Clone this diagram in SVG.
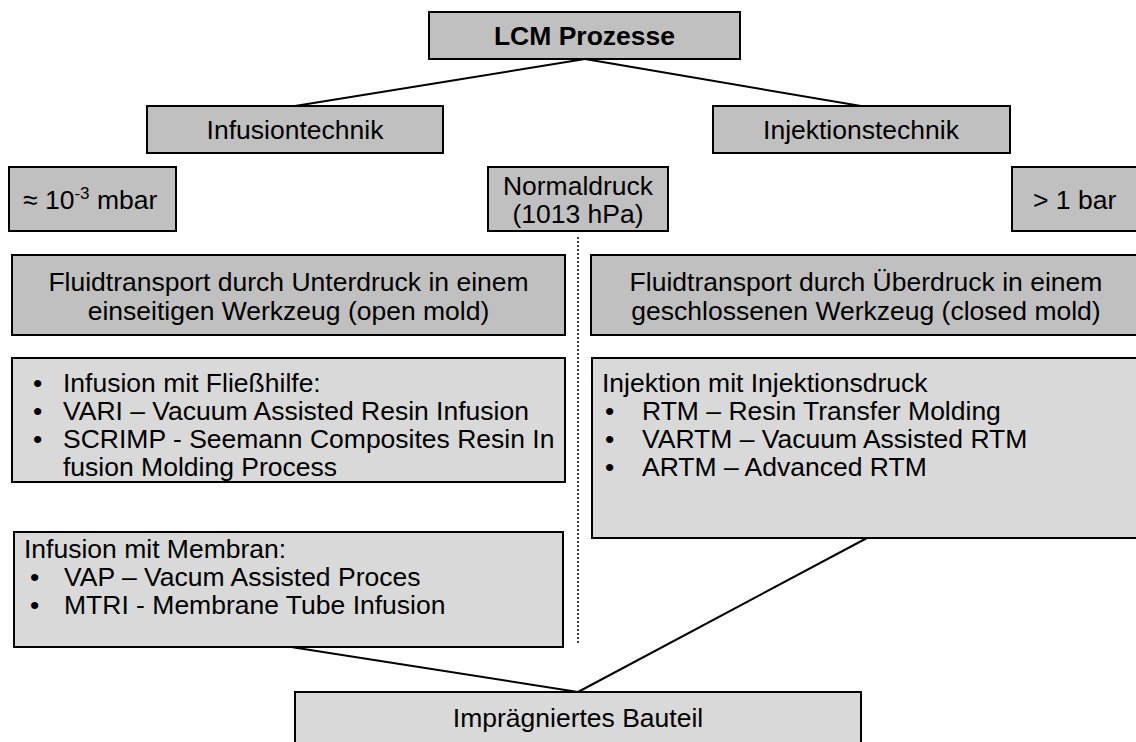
<svg xmlns="http://www.w3.org/2000/svg" width="1136" height="742" viewBox="0 0 1136 742">
<style>
  .dark { fill: #c0c0c0; stroke: #000; stroke-width: 2; }
  .light { fill: #d9d9d9; stroke: #000; stroke-width: 2; }
  text { font-family: "Liberation Sans", Arial, sans-serif; font-size: 26.5px; fill: #000; }
  .c { text-anchor: middle; }
  .b { font-weight: bold; }
  .conn { stroke: #000; stroke-width: 2; fill: none; }
  .dot { stroke: #000; stroke-width: 1.5; stroke-dasharray: 2 2; fill: none; }
</style>
<rect width="1136" height="742" fill="#fff"/>
<g id="connectors">
  <line class="conn" x1="585" y1="59" x2="295" y2="106"/>
  <line class="conn" x1="585" y1="59" x2="861" y2="106"/>
  <line class="conn" x1="291" y1="647" x2="578" y2="692"/>
  <line class="conn" x1="867" y1="538" x2="578" y2="692"/>
  <line class="dot" x1="578" y1="237" x2="578" y2="645"/>
</g>
<g id="lcm">
  <rect class="dark" x="429" y="12" width="311" height="47"/>
  <text class="c b" x="584.5" y="44.5">LCM Prozesse</text>
</g>
<g id="infusiontechnik">
  <rect class="dark" x="147" y="106" width="296" height="47"/>
  <text class="c" x="295" y="139">Infusiontechnik</text>
</g>
<g id="injektionstechnik">
  <rect class="dark" x="713" y="106" width="297" height="47"/>
  <text class="c" x="861" y="139">Injektionstechnik</text>
</g>
<g id="vakuum">
  <rect class="dark" x="9" y="167" width="167" height="64"/>
  <text x="23" y="208.5">≈ 10<tspan font-size="17" dy="-10">-3</tspan><tspan dy="10"> mbar</tspan></text>
</g>
<g id="normaldruck">
  <rect class="dark" x="488" y="167" width="180" height="64"/>
  <text class="c" x="578" y="194.5">Normaldruck</text>
  <text class="c" x="578" y="222.5">(1013 hPa)</text>
</g>
<g id="ueberdruck">
  <rect class="dark" x="1012" y="167" width="140" height="64"/>
  <text x="1033" y="208.5">&gt; 1 bar</text>
</g>
<g id="fluid-links">
  <rect class="dark" x="12" y="255" width="553" height="80"/>
  <text class="c" x="288.5" y="291">Fluidtransport durch Unterdruck in einem</text>
  <text class="c" x="288.5" y="320">einseitigen Werkzeug (open mold)</text>
</g>
<g id="fluid-rechts">
  <rect class="dark" x="591" y="255" width="560" height="80"/>
  <text class="c" x="866" y="291">Fluidtransport durch Überdruck in einem</text>
  <text class="c" x="866" y="320">geschlossenen Werkzeug (closed mold)</text>
</g>
<g id="liste-fliesshilfe">
  <rect class="light" x="12" y="358" width="553" height="124"/>
  <text x="33" y="392">•</text><text x="63" y="392">Infusion mit Fließhilfe:</text>
  <text x="33" y="420">•</text><text x="63" y="420">VARI – Vacuum Assisted Resin Infusion</text>
  <text x="33" y="448">•</text><text x="63" y="448">SCRIMP - Seemann Composites Resin In</text>
  <text x="63" y="476">fusion Molding Process</text>
</g>
<g id="liste-injektion">
  <rect class="light" x="592" y="358" width="560" height="180"/>
  <text x="602" y="392">Injektion mit Injektionsdruck</text>
  <text x="605" y="420">•</text><text x="642" y="420">RTM – Resin Transfer Molding</text>
  <text x="605" y="448">•</text><text x="642" y="448">VARTM – Vacuum Assisted RTM</text>
  <text x="605" y="476">•</text><text x="642" y="476">ARTM – Advanced RTM</text>
</g>
<g id="liste-membran">
  <rect class="light" x="14" y="532" width="549" height="115"/>
  <text x="24" y="558">Infusion mit Membran:</text>
  <text x="30" y="586">•</text><text x="64" y="586">VAP – Vacum Assisted Proces</text>
  <text x="30" y="614">•</text><text x="64" y="614">MTRI - Membrane Tube Infusion</text>
</g>
<g id="bauteil">
  <rect class="light" x="295" y="692" width="566" height="60"/>
  <text class="c" x="578" y="727">Imprägniertes Bauteil</text>
</g>
</svg>
